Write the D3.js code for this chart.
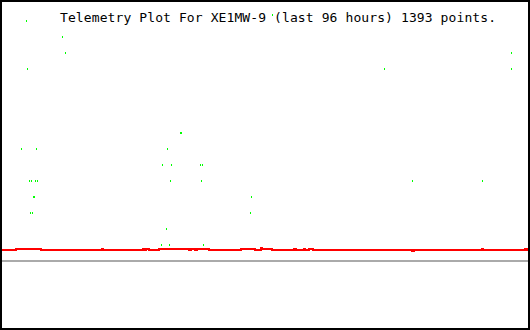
<!DOCTYPE html>
<html>
<head>
<meta charset="utf-8">
<script src="https://cdn.jsdelivr.net/npm/d3@7"></script>
<style>
  html, body { margin: 0; padding: 0; background: #fff; }
  svg { display: block; }
</style>
</head>
<body>
<div id="chart"></div>
<script>
// ── Telemetry plot, XE1MW-9 ──

const TITLE = 'Telemetry Plot For XE1MW-9 (last 96 hours) 1393 points.';

// red trace: step points [hour, value]
const redHours  = [0, 2.73, 7.29, 18.40, 18.58, 25.87, 26.23, 26.41, 26.96, 28.78, 34.25, 34.61, 35.34, 35.70,
                   37.89, 43.72, 46.27, 47.36, 47.54, 49.37, 53.37, 53.74, 55.19, 55.38, 56.11, 56.83,
                   74.87, 75.23, 87.62, 87.80, 95.45, 95.82, 96];
const redValues = [0.6875, 0.75, 0.6875, 0.75, 0.6875, 0.75, 0.6875, 0.75, 0.6875, 0.75, 0.6875, 0.75, 0.6875, 0.75,
                   0.6875, 0.75, 0.6875, 0.8125, 0.75, 0.6875, 0.75, 0.6875, 0.75, 0.6875, 0.75, 0.6875,
                   0.625, 0.6875, 0.75, 0.6875, 0.75, 0.6875, 0.6875];

// green samples
const greenHours  = [4.55, 11.11, 11.66, 4.74, 49.37, 92.90, 69.77, 92.90,
                     32.61, 32.79, 3.64, 6.38, 30.24,
                     29.33, 30.97, 36.25, 36.61,
                     5.10, 5.46, 6.19, 6.56, 30.79, 36.43, 74.87, 87.62,
                     5.83, 6.01, 45.54, 5.28, 5.65, 45.36,
                     30.06, 29.15, 30.60, 36.79];
const greenValues = [15, 14, 13, 12, 15.375, 13, 12, 12,
                     8, 8, 7, 7, 7,
                     6, 6, 6, 6,
                     5, 5, 5, 5, 5, 5, 5, 5,
                     4, 4, 4, 3, 3, 3,
                     2, 1, 1, 1];

const baseline = 0;

const width = 530, height = 330;

const svg = d3.select('#chart').append('svg')
    .attr('width', width)
    .attr('height', height)
    .attr('shape-rendering', 'crispEdges');

svg.append('rect').attr('width', width).attr('height', height).attr('fill', '#fff');

const x = d3.scaleLinear().domain([0, 96]).range([1, 528]);
const y = d3.scaleLinear().domain([0, 15]).range([261, 21]);

// gray reference line
svg.append('line')
    .attr('x1', 0).attr('x2', width)
    .attr('y1', y(baseline)).attr('y2', y(baseline))
    .attr('stroke', '#aaaaaa')
    .attr('stroke-width', 2);

// red trace
const redData = redHours.map((h, i) => [h, redValues[i]]);
const line = d3.line()
    .x(d => x(d[0]))
    .y(d => y(d[1]))
    .curve(d3.curveStepAfter);

svg.append('path')
    .datum(redData)
    .attr('d', line)
    .attr('fill', 'none')
    .attr('stroke', '#ff0000')
    .attr('stroke-width', 2);

// green samples
const greenData = greenHours.map((h, i) => [h, greenValues[i]]);
svg.append('g')
    .selectAll('rect')
    .data(greenData)
    .join('rect')
    .attr('x', d => Math.round(x(d[0])))
    .attr('y', d => Math.round(y(d[1])) - 1)
    .attr('width', 1)
    .attr('height', 2)
    .attr('fill', '#00ff00');

// title
svg.append('text')
    .attr('x', 60)
    .attr('y', 22)
    .attr('font-family', '"DejaVu Sans Mono", monospace')
    .attr('font-size', 13)
    .attr('textLength', 436)
    .attr('lengthAdjust', 'spacing')
    .attr('fill', '#000')
    .text(TITLE);

// frame
svg.append('rect')
    .attr('x', 1).attr('y', 1)
    .attr('width', width - 2).attr('height', height - 2)
    .attr('fill', 'none')
    .attr('stroke', '#000')
    .attr('stroke-width', 2);
</script>
</body>
</html>
